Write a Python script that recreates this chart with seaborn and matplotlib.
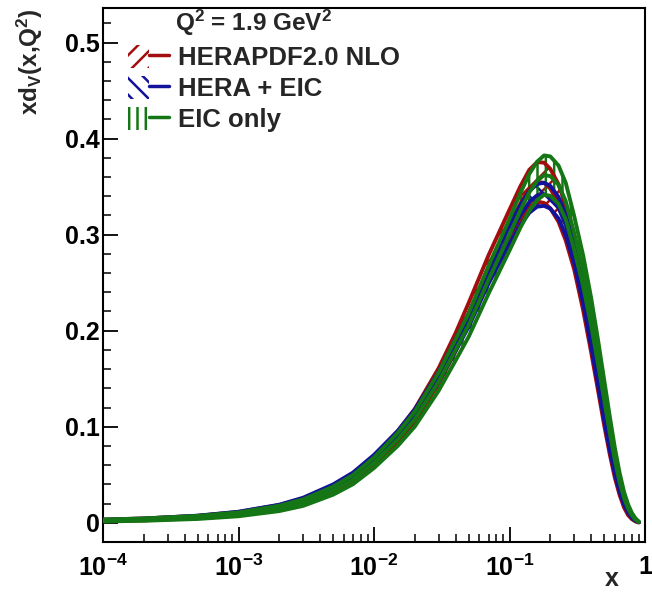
import numpy as np
import pandas as pd
import matplotlib
matplotlib.use("Agg")
import matplotlib.pyplot as plt
import seaborn as sns
from matplotlib.ticker import MultipleLocator, LogLocator, FixedLocator, NullFormatter
from matplotlib.patches import Patch
from matplotlib.lines import Line2D
from matplotlib.legend_handler import HandlerTuple

# ---------------- data ----------------
x_vals = [1e-4, 2e-4, 5e-4, 1e-3, 2e-3, 3e-3, 5e-3, 7e-3, 1e-2, 1.5e-2, 2e-2, 3e-2,
          4e-2, 5e-2, 7e-2, 0.1, 0.12, 0.14, 0.16, 0.18, 0.2, 0.23, 0.26, 0.3,
          0.35, 0.4, 0.45, 0.5, 0.55, 0.6, 0.65, 0.7, 0.75, 0.8, 0.85, 0.9]

hera_central = [0.0025, 0.0035, 0.0060, 0.0095, 0.0160, 0.0225, 0.0355, 0.0475, 0.0650, 0.0900,
                0.1120, 0.1530, 0.1880, 0.2180, 0.2650, 0.3100, 0.3320, 0.3480, 0.3550, 0.3540,
                0.3480, 0.3330, 0.3120, 0.2800, 0.2350, 0.1900, 0.1480, 0.1100, 0.0780, 0.0520,
                0.0330, 0.0190, 0.0100, 0.0050, 0.0020, 0.0005]
hera_err = [0.0008, 0.0010, 0.0013, 0.0018, 0.0025, 0.0030, 0.0035, 0.0040, 0.0045, 0.0055,
            0.0065, 0.0080, 0.0095, 0.0110, 0.0135, 0.0160, 0.0180, 0.0195, 0.0205, 0.0210,
            0.0205, 0.0195, 0.0180, 0.0160, 0.0140, 0.0120, 0.0100, 0.0085, 0.0070, 0.0055,
            0.0042, 0.0030, 0.0020, 0.0012, 0.0006, 0.0002]

heic_central = [0.0027, 0.0038, 0.0066, 0.0105, 0.0175, 0.0245, 0.0380, 0.0500, 0.0680, 0.0925,
                0.1140, 0.1520, 0.1850, 0.2110, 0.2570, 0.3000, 0.3200, 0.3340, 0.3410, 0.3420,
                0.3390, 0.3280, 0.3100, 0.2800, 0.2370, 0.1920, 0.1500, 0.1120, 0.0800, 0.0540,
                0.0350, 0.0210, 0.0120, 0.0060, 0.0025, 0.0007]
heic_err = [0.0005, 0.0006, 0.0008, 0.0010, 0.0013, 0.0016, 0.0020, 0.0023, 0.0027, 0.0033,
            0.0040, 0.0050, 0.0060, 0.0068, 0.0080, 0.0095, 0.0105, 0.0112, 0.0118, 0.0120,
            0.0118, 0.0112, 0.0105, 0.0095, 0.0085, 0.0075, 0.0065, 0.0055, 0.0045, 0.0035,
            0.0027, 0.0020, 0.0013, 0.0008, 0.0004, 0.0001]

eic_central = [0.0024, 0.0033, 0.0056, 0.0088, 0.0150, 0.0210, 0.0335, 0.0450, 0.0625, 0.0870,
               0.1080, 0.1470, 0.1800, 0.2060, 0.2530, 0.3000, 0.3250, 0.3440, 0.3560, 0.3620,
               0.3610, 0.3520, 0.3350, 0.3020, 0.2620, 0.2200, 0.1780, 0.1380, 0.1020, 0.0710,
               0.0470, 0.0290, 0.0170, 0.0090, 0.0040, 0.0010]
eic_err = [0.0010, 0.0012, 0.0016, 0.0020, 0.0028, 0.0034, 0.0042, 0.0048, 0.0055, 0.0068,
           0.0078, 0.0095, 0.0110, 0.0122, 0.0145, 0.0165, 0.0180, 0.0192, 0.0200, 0.0205,
           0.0205, 0.0200, 0.0190, 0.0175, 0.0160, 0.0145, 0.0125, 0.0105, 0.0085, 0.0065,
           0.0048, 0.0033, 0.0022, 0.0013, 0.0007, 0.0003]

series_names = ["HERAPDF2.0 NLO", "HERA + EIC", "EIC only"]
header_text = r"Q$^2$ = 1.9 GeV$^2$"
x_ticks = [1e-4, 1e-3, 1e-2, 1e-1, 1]
x_tick_labels = [r"$10^{-4}$", r"$10^{-3}$", r"$10^{-2}$", r"$10^{-1}$", "1"]
y_ticks = [0, 0.1, 0.2, 0.3, 0.4, 0.5]
y_tick_labels = ["0", "0.1", "0.2", "0.3", "0.4", "0.5"]

# ---------------- style ----------------
sns.set_theme(style="white")
plt.rcParams["font.family"] = ["Liberation Sans", "DejaVu Sans"]
plt.rcParams["font.weight"] = "bold"
plt.rcParams["mathtext.fontset"] = "custom"
plt.rcParams["mathtext.rm"] = "Liberation Sans:bold"
plt.rcParams["mathtext.it"] = "Liberation Sans:bold"
plt.rcParams["mathtext.bf"] = "Liberation Sans:bold"
plt.rcParams["mathtext.sf"] = "Liberation Sans:bold"
plt.rcParams["hatch.linewidth"] = 1.8

colors = ["#a30d0d", "#12129a", "#147614"]
hatches = ["//", "\\\\", "||"]
leg_hatches = ["//", "\\\\", "||"]
centrals = [hera_central, heic_central, eic_central]
errs = [hera_err, heic_err, eic_err]

fig = plt.figure(figsize=(6.52, 5.96), dpi=100)
W, H = 652, 596
ax = fig.add_axes([103 / W, 1 - 542 / H, (645 - 103) / W, (542 - 8) / H])

x_arr = np.array(x_vals)
lw = 2.8
for name, c, e, col, hat in zip(series_names, centrals, errs, colors, hatches):
    c = np.array(c)
    e = np.array(e)
    lo, hi = c - e, c + e
    ax.fill_between(x_arr, lo, hi, facecolor="none", edgecolor=col, hatch=hat, linewidth=0, zorder=2)
    df = pd.DataFrame({"x": np.concatenate([x_arr] * 3),
                       "y": np.concatenate([lo, c, hi]),
                       "k": ["lo"] * len(x_arr) + ["c"] * len(x_arr) + ["hi"] * len(x_arr)})
    sns.lineplot(data=df, x="x", y="y", units="k", estimator=None, color=col, lw=lw,
                 ax=ax, zorder=3, legend=False, sort=False)

ax.set_xscale("log")
ax.set_xlim(1e-4, 1)
ax.set_ylim(-0.02, 0.536)
ax.set_xlabel("")
ax.set_ylabel("")

ax.xaxis.set_major_locator(FixedLocator(x_ticks))
ax.set_xticklabels(x_tick_labels)
ax.xaxis.set_minor_locator(LogLocator(base=10, subs=np.arange(2, 10), numticks=20))
ax.xaxis.set_minor_formatter(NullFormatter())
ax.yaxis.set_major_locator(FixedLocator(y_ticks))
ax.set_yticklabels(y_tick_labels)
ax.yaxis.set_minor_locator(MultipleLocator(0.02))

ax.tick_params(axis="both", which="major", direction="in", length=11, width=1.3,
               labelsize=18, colors="black", bottom=True, left=True, top=False, right=False)
ax.tick_params(axis="both", which="minor", direction="in", length=5.5, width=1.3,
               bottom=True, left=True, top=False, right=False)
ax.tick_params(axis="x", which="major", pad=9)
ax.tick_params(axis="y", which="major", pad=2)
for lab in ax.get_xticklabels() + ax.get_yticklabels():
    lab.set_fontweight("bold")

for sp in ax.spines.values():
    sp.set_visible(True)
    sp.set_color("black")
    sp.set_linewidth(1.5)

# axis titles
fig.text(30 / W, 1 - 8 / H, r"xd$_V$(x,Q$^2$)", rotation=90, ha="center", va="top",
         fontsize=17.5, fontweight="bold")
fig.text(612 / W, 1 - 579 / H, "x", ha="center", va="center", fontsize=18, fontweight="bold")

# legend
fig.text(175 / W, 1 - 23 / H, header_text, ha="left", va="center", fontsize=17.5, fontweight="bold")
handles = []
for col, hat in zip(colors, leg_hatches):
    p = Patch(facecolor="none", edgecolor=col, hatch=hat, linewidth=0)
    l = Line2D([], [], color=col, lw=2.5)
    handles.append((p, l))
leg = ax.legend(handles, series_names, handler_map={tuple: HandlerTuple(ndivide=None)},
                loc="upper left", bbox_to_anchor=(128 / W, 1 - 45 / H),
                bbox_transform=fig.transFigure, frameon=False, fontsize=18.5,
                handlelength=1.6, handleheight=1.0, handletextpad=0.35,
                labelspacing=0.22, borderpad=0, borderaxespad=0)
for t in leg.get_texts():
    t.set_fontweight("bold")

fig.savefig("out.png", dpi=100)
